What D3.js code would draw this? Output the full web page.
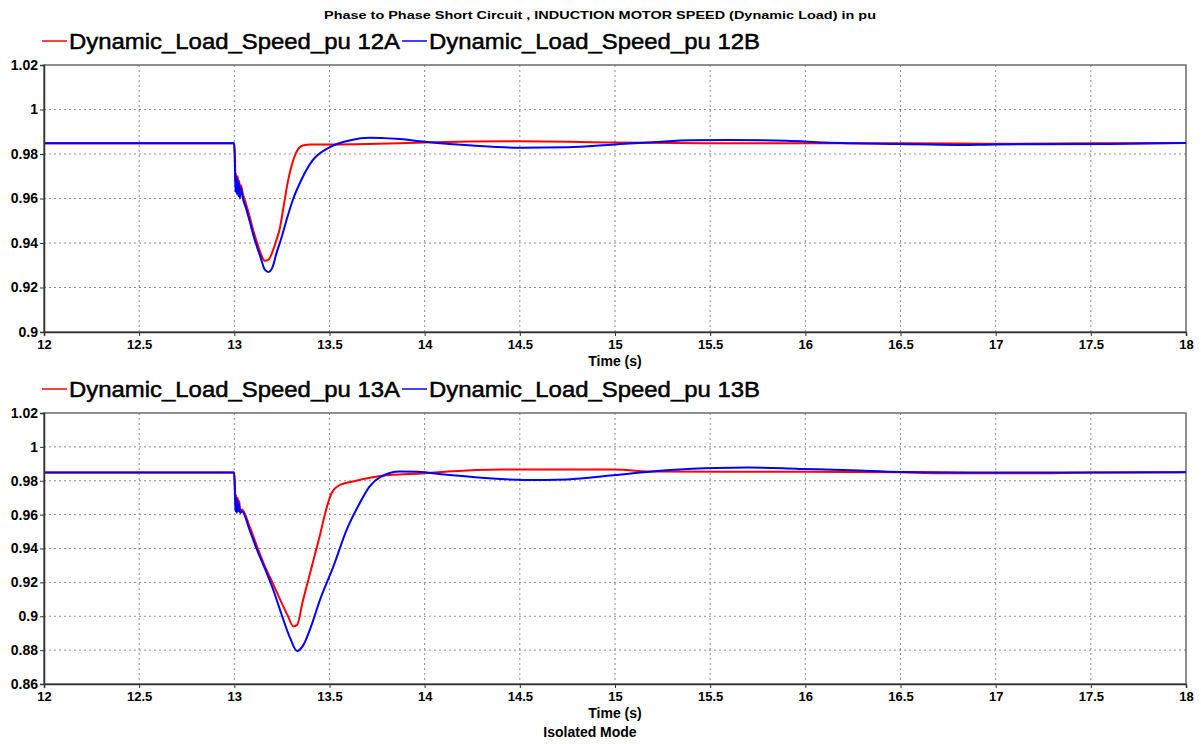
<!DOCTYPE html>
<html>
<head>
<meta charset="utf-8">
<script src="https://cdn.jsdelivr.net/npm/d3@7"></script>
<style>
  html, body { margin: 0; padding: 0; background: #ffffff; }
  svg { display: block; font-family: Arial, "Liberation Sans", sans-serif; }
</style>
</head>
<body>
<svg id="chart" width="1201" height="744"></svg>
<script>
// ---------------- DATA ----------------
const chartTitle = "Phase to Phase Short Circuit , INDUCTION MOTOR SPEED (Dynamic Load) in pu";
const xLabel = "Time (s)";
const footer = "Isolated Mode";
const xTicks = [12, 12.5, 13, 13.5, 14, 14.5, 15, 15.5, 16, 16.5, 17, 17.5, 18];
const yTicksTop = [0.9, 0.92, 0.94, 0.96, 0.98, 1, 1.02];
const yTicksBottom = [0.86, 0.88, 0.9, 0.92, 0.94, 0.96, 0.98, 1, 1.02];
const seriesNames = ["Dynamic_Load_Speed_pu 12A", "Dynamic_Load_Speed_pu 12B",
                     "Dynamic_Load_Speed_pu 13A", "Dynamic_Load_Speed_pu 13B"];

const t12A = [12, 12.999, 13.003, 13.006, 13.010, 13.014, 13.018, 13.022, 13.026, 13.030, 13.035, 13.045,
  13.06, 13.08, 13.10, 13.12, 13.14, 13.16, 13.18, 13.20, 13.22, 13.24, 13.26, 13.28, 13.30, 13.33, 13.36,
  13.40, 13.5, 13.7, 14.0, 14.5, 15.0, 15.5, 16.0, 16.5, 17.0, 17.5, 18.0];
const v12A = [0.9848, 0.9848, 0.980, 0.968, 0.971, 0.964, 0.970, 0.963, 0.968, 0.962, 0.966, 0.962,
  0.958, 0.952, 0.9455, 0.940, 0.935, 0.932, 0.9325, 0.936, 0.941, 0.947, 0.957, 0.967, 0.9745, 0.9815, 0.9838,
  0.9843, 0.9843, 0.9845, 0.9852, 0.9857, 0.9852, 0.9848, 0.9848, 0.9848, 0.9846, 0.9848, 0.9849];

const t12B = [12, 12.999, 13.003, 13.006, 13.010, 13.013, 13.017, 13.021, 13.025, 13.029, 13.034, 13.045,
  13.06, 13.08, 13.10, 13.12, 13.14, 13.16, 13.18, 13.20, 13.22, 13.25, 13.28, 13.31, 13.35, 13.41, 13.50,
  13.61, 13.71, 13.85, 14.0, 14.25, 14.5, 14.75, 15.0, 15.2, 15.4, 15.6, 15.9, 16.1, 16.5, 16.8, 17.0, 17.6, 18.0];
const v12B = [0.9848, 0.9848, 0.975, 0.963, 0.970, 0.962, 0.969, 0.961, 0.967, 0.960, 0.965, 0.960,
  0.956, 0.950, 0.9435, 0.938, 0.933, 0.928, 0.927, 0.929, 0.935, 0.943, 0.952, 0.960, 0.968, 0.977, 0.983,
  0.9862, 0.9873, 0.9868, 0.9855, 0.9838, 0.9828, 0.9830, 0.9843, 0.9853, 0.9862, 0.9863, 0.9860, 0.9852,
  0.9845, 0.9841, 0.9843, 0.9845, 0.9849];

const t13A = [12, 12.999, 13.003, 13.006, 13.010, 13.014, 13.018, 13.022, 13.026, 13.030, 13.04,
  13.08, 13.12, 13.17, 13.20, 13.24, 13.28, 13.31, 13.33, 13.36, 13.39, 13.42, 13.45, 13.48, 13.51,
  13.555, 13.64, 13.77, 14.0, 14.12, 14.4, 15.0, 15.18, 16.0, 16.5, 16.7, 17.3, 17.5, 18.0];
const v13A = [0.9848, 0.9848, 0.978, 0.966, 0.9715, 0.964, 0.970, 0.963, 0.968, 0.962, 0.963,
  0.953, 0.941, 0.927, 0.920, 0.910, 0.9005, 0.894, 0.895, 0.909, 0.922, 0.935, 0.948, 0.962, 0.9725,
  0.9775, 0.980, 0.9828, 0.9844, 0.9854, 0.9866, 0.9866, 0.9854, 0.9853, 0.9850, 0.9845, 0.9845, 0.9848, 0.9851];

const t13B = [12, 12.999, 13.003, 13.006, 13.010, 13.013, 13.017, 13.021, 13.025, 13.03, 13.04,
  13.08, 13.12, 13.17, 13.20, 13.24, 13.29, 13.33, 13.36, 13.40, 13.45, 13.52, 13.59, 13.66, 13.71,
  13.77, 13.87, 13.96, 14.13, 14.3, 14.52, 14.75, 14.99, 15.27, 15.53, 15.7, 15.97, 16.24, 16.5, 17.0, 18.0];
const v13B = [0.9848, 0.9848, 0.973, 0.962, 0.970, 0.961, 0.968, 0.962, 0.966, 0.961, 0.962,
  0.951, 0.939, 0.9256, 0.917, 0.9038, 0.888, 0.8795, 0.8825, 0.893, 0.9097, 0.9293, 0.951, 0.967, 0.9765,
  0.9824, 0.9855, 0.9853, 0.9834, 0.9818, 0.9805, 0.9808, 0.9832, 0.9862, 0.9876, 0.9878, 0.9870, 0.9862,
  0.9852, 0.9848, 0.9850];

const colorA = "#ff0000";
const colorB = "#0000ff";

// ---------------- LAYOUT ----------------
const svg = d3.select("#chart");
const X0 = 44, X1 = 1186;
const panels = [
  { top: 65, bottom: 332, yDomain: [0.9, 1.02], yTicks: yTicksTop,
    legendY: 41, series: [[t12A, v12A, colorA, seriesNames[0]], [t12B, v12B, colorB, seriesNames[1]]] },
  { top: 413, bottom: 684, yDomain: [0.86, 1.02], yTicks: yTicksBottom,
    legendY: 389, series: [[t13A, v13A, colorA, seriesNames[2]], [t13B, v13B, colorB, seriesNames[3]]] }
];

svg.append("text")
  .attr("x", 600).attr("y", 18.5)
  .attr("text-anchor", "middle")
  .attr("font-size", "11.5px").attr("font-weight", "bold")
  .attr("textLength", 552).attr("lengthAdjust", "spacingAndGlyphs")
  .attr("fill", "#000")
  .text(chartTitle);

const fmt = d => String(+d.toFixed(2));

panels.forEach((p, pi) => {
  const x = d3.scaleLinear().domain([12, 18]).range([X0, X1]);
  const y = d3.scaleLinear().domain(p.yDomain).range([p.bottom, p.top]);
  const g = svg.append("g");

  // grid
  g.append("g").selectAll("line")
    .data(xTicks.slice(1, -1)).enter().append("line")
    .attr("x1", d => x(d)).attr("x2", d => x(d))
    .attr("y1", p.top).attr("y2", p.bottom)
    .attr("stroke", "#8a8a8a").attr("stroke-width", 1)
    .attr("stroke-dasharray", "2,3");
  g.append("g").selectAll("line")
    .data(p.yTicks.slice(1, -1)).enter().append("line")
    .attr("x1", X0).attr("x2", X1)
    .attr("y1", d => y(d)).attr("y2", d => y(d))
    .attr("stroke", "#8a8a8a").attr("stroke-width", 1)
    .attr("stroke-dasharray", "2,3");

  // frame
  g.append("rect")
    .attr("x", X0).attr("y", p.top)
    .attr("width", X1 - X0).attr("height", p.bottom - p.top)
    .attr("fill", "none").attr("stroke", "#6a6a6a").attr("stroke-width", 1.5);

  // lines
  const line = d3.line().x(d => x(d[0])).y(d => y(d[1])).curve(d3.curveMonotoneX);
  p.series.forEach(s => {
    const pts = s[0].map((t, i) => [t, s[1][i]]);
    g.append("path").datum(pts)
      .attr("d", line)
      .attr("fill", "none").attr("stroke", s[2]).attr("stroke-width", 2)
      .attr("stroke-linejoin", "round");
  });

  // axes
  const xAxis = d3.axisBottom(x).tickValues(xTicks).tickFormat(fmt).tickSize(4).tickPadding(4);
  const ax = g.append("g").attr("transform", `translate(0,${p.bottom})`).call(xAxis);
  const yAxis = d3.axisLeft(y).tickValues(p.yTicks).tickFormat(fmt).tickSize(4).tickPadding(2);
  const ay = g.append("g").attr("transform", `translate(${X0},0)`).call(yAxis);
  [ax, ay].forEach((a, ai) => {
    a.select(".domain").attr("stroke", "#333").attr("stroke-width", 1.5);
    a.selectAll(".tick line").attr("stroke", "#333");
    a.selectAll(".tick text")
      .attr("font-size", ai === 0 ? "13px" : "14px").attr("font-weight", "bold")
      .attr("font-family", "Arial, 'Liberation Sans', sans-serif").attr("fill", "#000");
  });

  g.append("text")
    .attr("x", (X0 + X1) / 2).attr("y", p.bottom + 33.5)
    .attr("text-anchor", "middle")
    .attr("font-size", "14px").attr("font-weight", "bold")
    .text(xLabel);

  // legend
  let lx = 42;
  p.series.forEach(s => {
    g.append("line")
      .attr("x1", lx).attr("x2", lx + 25)
      .attr("y1", p.legendY).attr("y2", p.legendY)
      .attr("stroke", s[2]).attr("stroke-width", 1.5);
    g.append("text")
      .attr("x", lx + 27).attr("y", p.legendY + 7.5)
      .attr("font-size", "22px").attr("fill", "#000")
      .attr("stroke", "#000").attr("stroke-width", 0.5)
      .attr("textLength", 331).attr("lengthAdjust", "spacingAndGlyphs")
      .text(s[3]);
    lx = lx + 27 + 331 + 2;
  });
});

svg.append("text")
  .attr("x", 590).attr("y", 737)
  .attr("text-anchor", "middle")
  .attr("font-size", "14px").attr("font-weight", "bold")
  .text(footer);
</script>
</body>
</html>
